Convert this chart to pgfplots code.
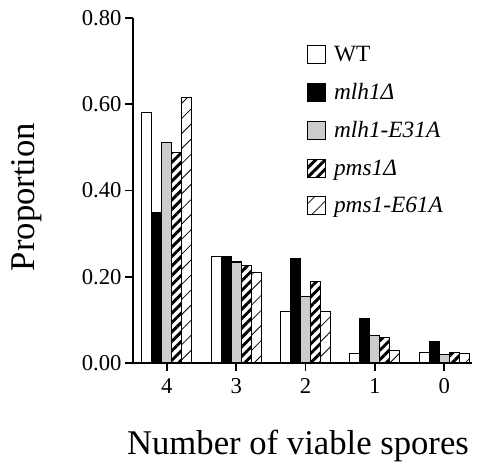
\documentclass[border=0pt]{standalone}
\usepackage{fontspec}
\setmainfont{Liberation Serif}
\usepackage{pgfplots}
\usepackage{pgfplotstable}
\pgfplotsset{compat=1.18}
\usetikzlibrary{patterns.meta}

\pgfplotstableread{
x wt mlh mlhE pms pmsE
0 0.580 0.348 0.512 0.487 0.615
1 0.246 0.246 0.234 0.227 0.209
2 0.120 0.241 0.155 0.188 0.120
3 0.021 0.104 0.063 0.060 0.028
4 0.025 0.049 0.020 0.025 0.021
}\spores

\begin{document}
\begin{tikzpicture}
\begin{axis}[
    scale only axis,
    width=254.25pt,
    height=258.75pt,
    ybar=0pt,
    bar width=7.5pt,
    xmin=-0.49, xmax=4.4,
    ymin=0, ymax=0.8,
    axis lines=left,
    axis line style={-, line width=1.4pt},
    clip=false,
    xtick={0,1,2,3,4},
    xticklabels={4,3,2,1,0},
    ytick={0,0.2,0.4,0.6,0.8},
    tick align=outside,
    major tick length=6pt,
    tick style={line width=1.3pt, black},
    /pgf/number format/assume math mode=true,
    yticklabel style={font=\fontsize{17}{17}\selectfont, xshift=1pt,
        /pgf/number format/fixed, /pgf/number format/fixed zerofill,
        /pgf/number format/precision=2},
    xticklabel style={font=\fontsize{17}{17}\selectfont, yshift=-2pt},
    xlabel={Number of viable spores},
    ylabel={Proportion},
    label style={font=\fontsize{26}{26}\selectfont},
    xlabel style={at={(axis description cs:0.487,-0.24)}, anchor=center},
    ylabel style={at={(axis description cs:-0.313,0.481)}, anchor=center},
    legend cell align=left,
    legend image code/.code={\draw[#1, line width=1pt] (0pt,-6.75pt) rectangle (13.5pt,6.75pt);},
    legend style={at={(0.5,0.935)}, anchor=north west, draw=none, fill=none,
        font=\fontsize{17.5}{17.5}\selectfont, row sep=11pt,
        nodes={inner xsep=6pt}},
    every axis plot/.append style={draw=black, line width=0.8pt},
]
\addplot[fill=white] table[x=x, y=wt] {\spores};
\addplot[fill=black] table[x=x, y=mlh] {\spores};
\addplot[fill=gray!40] table[x=x, y=mlhE] {\spores};
\addplot[pattern={Lines[angle=45, distance=5pt, line width=2.2pt]}, pattern color=black] table[x=x, y=pms] {\spores};
\addplot[pattern={Lines[angle=45, distance=8pt, line width=0.6pt]}, pattern color=black] table[x=x, y=pmsE] {\spores};
\legend{WT, \textit{mlh1Δ}, \textit{mlh1-E31A}, \textit{pms1Δ}, \textit{pms1-E61A}}
\path (rel axis cs:-0.392,-0.287) rectangle (rel axis cs:1.015,1.052);
\end{axis}
\end{tikzpicture}
\end{document}
